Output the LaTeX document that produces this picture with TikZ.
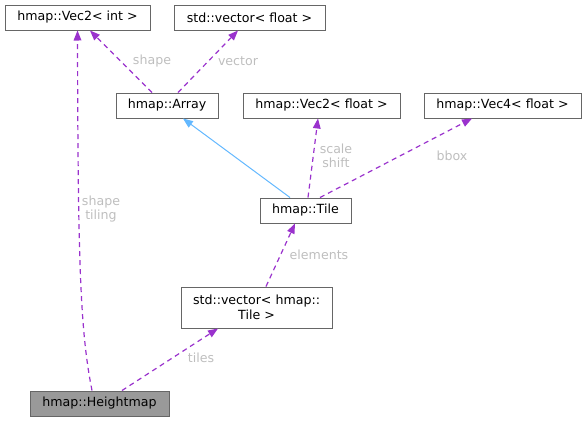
\documentclass[tikz,border=0pt]{standalone}
\usepackage{fontspec}
\setmainfont{DejaVu Sans}
\usepackage{xcolor}
\usepackage{tikz}
\usetikzlibrary{calc,arrows.meta}
\definecolor{frame}{HTML}{666666}
\definecolor{shade}{HTML}{999999}
\definecolor{orchid}{HTML}{9A32CD}
\definecolor{steel}{HTML}{63B8FF}
\definecolor{muted}{HTML}{BEBEBE}
\tikzset{
  cls/.style={draw=frame, line width=1pt, font=\fontsize{12.6}{15}\selectfont,
    minimum height=25pt, inner sep=0pt, align=center},
  focus/.style={cls, fill=shade},
  usage/.style={draw=orchid, line width=1.2pt, dash pattern=on 5pt off 4pt,
    -{Triangle[length=10pt,width=8pt,fill=orchid,line width=0pt]}},
  inherit/.style={draw=steel, line width=1pt,
    -{Triangle[length=10pt,width=8pt,fill=steel,line width=0pt]}},
  lab/.style={text=muted, font=\fontsize{12.6}{14}\selectfont, align=center, inner sep=0pt},
}
\begin{document}
\begin{tikzpicture}[x=1pt,y=-1pt]
  \useasboundingbox (0,0) rectangle (587,421);

  % classes
  \node[cls, minimum width=145pt] (v2i) at (77.5,17.5) {hmap::Vec2< int >};
  \node[cls, minimum width=151pt] (vf) at (249.5,17.5) {std::vector< float >};
  \node[cls, minimum width=102pt] (arr) at (167,105.5) {hmap::Array};
  \node[cls, minimum width=157pt] (v2f) at (321.5,105.5) {hmap::Vec2< float >};
  \node[cls, minimum width=157pt] (v4f) at (502.5,105.5) {hmap::Vec4< float >};
  \node[cls, minimum width=91pt] (tile) at (305.5,210.5) {hmap::Tile};
  \node[cls, minimum width=151pt, minimum height=41pt] (vt) at (256.5,307.5) {std::vector< hmap::\\Tile >};
  \node[focus, minimum width=139pt] (hm) at (99.5,403.5) {hmap::Heightmap};

  % members
  \draw[usage] ($(arr.north)+(-15,0)$) -- ($(v2i.south)+(12.5,0)$);
  \draw[usage] ($(arr.north)+(11,0)$) -- ($(vf.south)+(-11.5,0)$);
  \draw[usage] ($(tile.north)+(2.5,0)$) -- ($(v2f.south)+(-3.5,0)$);
  \draw[usage] ($(tile.north)+(14.5,0)$) -- ($(v4f.south)+(-30.5,0)$);
  \draw[usage] ($(vt.north)+(9.5,0)$) -- ($(tile.south)+(-10.5,0)$);
  \draw[usage] ($(hm.north)+(22.5,0)$) -- ($(vt.south)+(-38.5,0)$);
  \draw[usage] ($(hm.north)+(-7.5,0)$) .. controls (80,330) and (78,260) .. (v2i.south);

  % base class
  \draw[inherit] ($(tile.north)+(-15.5,0)$) -- ($(arr.south)+(16,0)$);

  % labels
  \node[lab] (lshape) at (152,61) {shape};
  \node[lab] (lvector) at (238,61) {vector};
  \node[lab] (lscale) at (336,156) {scale\\shift};
  \node[lab] (lbbox) at (452,156) {bbox};
  \node[lab] (lelem) at (319,255) {elements};
  \node[lab] (ltiles) at (201,358) {tiles};
  \node[lab] (ltiling) at (101,209.5) {shape\\tiling};
\end{tikzpicture}
\end{document}
